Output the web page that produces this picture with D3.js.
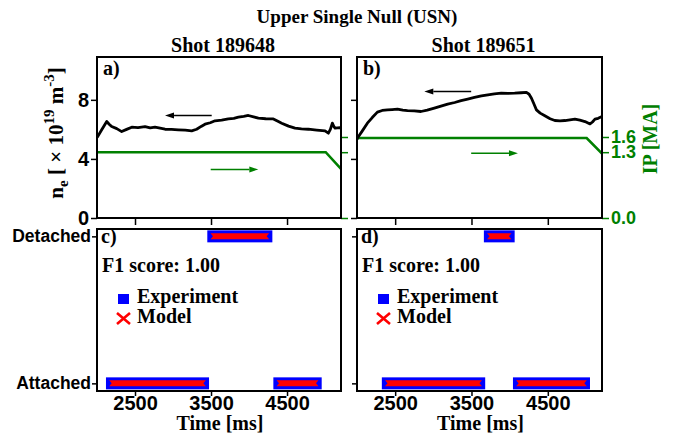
<!DOCTYPE html>
<html>
<head>
<meta charset="utf-8">
<script src="https://cdn.jsdelivr.net/npm/d3@7"></script>
<style>
  body { margin: 0; background: #fff; }
  svg { display: block; font-family: "Liberation Serif", "Times New Roman", serif; font-weight: bold; }
  .axis text { font-size: 20px; font-weight: bold; }
</style>
</head>
<body>
<svg id="chart" width="679" height="439"></svg>
<script>
// ---- data ----
const timeDomain = [2000, 5210];
const timeTicks = [2500, 3500, 4500];
const neTicks = [0, 4, 8];
const ipTicks = [0, 1.3, 1.6];
const stateLabels = ['Attached', 'Detached'];

const shots = ['189648', '189651'];

// line-averaged density [1e19 m^-3] vs time [ms]
const ne189648 = [
  [2000,5.45],[2009,5.51],[2062,5.97],[2128,6.53],[2160,6.35],[2193,6.19],[2260,6.05],[2325,5.85],
  [2390,6.0],[2457,6.15],[2540,6.12],[2632,6.19],[2700,6.1],[2763,6.15],[2830,6.08],[2895,6.01],
  [2980,6.0],[3070,5.97],[3160,5.95],[3246,5.9],[3311,6.01],[3370,6.2],[3421,6.35],[3490,6.45],
  [3553,6.58],[3640,6.62],[3728,6.71],[3800,6.75],[3860,6.83],[3930,6.88],[3991,6.94],[4060,6.85],
  [4123,6.76],[4220,6.72],[4320,6.71],[4380,6.55],[4430,6.42],[4520,6.22],[4605,6.08],[4690,6.03],
  [4780,6.01],[4890,5.95],[5000,5.9],[5044,5.74],[5070,6.0],[5096,6.42],[5115,6.2],[5132,6.08],
  [5197,6.12],[5210,6.05]
];
const ne189651 = [
  [2000,5.3],[2004,5.4],[2070,5.9],[2136,6.42],[2200,6.8],[2267,7.17],[2330,7.28],[2399,7.32],
  [2460,7.34],[2530,7.37],[2600,7.3],[2662,7.27],[2750,7.25],[2838,7.21],[2920,7.3],[3013,7.44],
  [3100,7.58],[3188,7.71],[3280,7.82],[3364,7.95],[3450,8.05],[3539,8.16],[3630,8.26],[3715,8.34],
  [3800,8.4],[3890,8.45],[3980,8.44],[4066,8.45],[4150,8.48],[4220,8.5],[4255,8.38],[4286,8.11],
  [4320,7.7],[4351,7.32],[4400,7.1],[4461,6.92],[4530,6.72],[4592,6.6],[4660,6.58],[4724,6.6],
  [4790,6.65],[4855,6.69],[4920,6.62],[4987,6.53],[5053,6.37],[5085,6.5],[5118,6.69],[5160,6.75],
  [5210,6.87]
];

// plasma current [MA]
const ip189648 = [[2000,1.30],[5009,1.30],[5210,0.97]];
const ip189651 = [[2000,1.58],[5009,1.58],[5210,1.27]];

// detachment state intervals (0 = attached, 1 = detached), first/last sample times
const exp189648 = [[0,2197,3395],[1,3530,4228],[0,4399,4877]];
const model189648 = [[0,2197,3395],[1,3530,4228],[0,4399,4877]];
const exp189651 = [[0,2404,3601],[1,3741,3987],[0,4122,4974]];
const model189651 = [[0,2404,3601],[1,3741,3987],[0,4122,4974]];

const f1Scores = [1.00, 1.00];

// axis-pointing arrows: [series, from t, to t, value]
const arrows189648 = [['ne',3509,2895,6.94],['ip',3496,4122,0.96]];
const arrows189651 = [['ne',3496,2882,8.56],['ip',3496,4109,1.28]];

// ---- layout ----
const green = '#008000';
const svg = d3.select('#chart');

const cols = [{x0: 97, x1: 341}, {x0: 357, x1: 602}];
const topRow = {y0: 57, y1: 218};
const botRow = {y0: 229, y1: 391};

const neData = [ne189648, ne189651];
const ipData = [ip189648, ip189651];
const expData = [exp189648, exp189651];
const modelData = [model189648, model189651];
const arrowData = [arrows189648, arrows189651];
const panelTags = [['a)', 'c)'], ['b)', 'd)']];

const defs = svg.append('defs');

// title
svg.append('text')
    .attr('x', 357).attr('y', 23)
    .attr('text-anchor', 'middle')
    .style('font-size', '19px')
    .text('Upper Single Null (USN)');

cols.forEach((c, i) => {
    const x = d3.scaleLinear().domain(timeDomain).range([c.x0, c.x1]);
    const yNe = d3.scaleLinear().domain([0, 10.9]).range([topRow.y1, topRow.y0]);
    const yIp = d3.scaleLinear().domain([0, 3.18]).range([topRow.y1, topRow.y0]);
    const yState = d3.scaleLinear().domain([-0.052, 1.05]).range([botRow.y1, botRow.y0]);

    // shot title
    svg.append('text')
        .attr('x', (c.x0 + c.x1) / 2 + 4).attr('y', 52)
        .attr('text-anchor', 'middle')
        .style('font-size', '20px')
        .text('Shot ' + shots[i]);

    // ---------- top panel ----------
    const clipId = 'clip-top-' + i;
    defs.append('clipPath').attr('id', clipId)
        .append('rect')
        .attr('x', c.x0).attr('y', topRow.y0)
        .attr('width', c.x1 - c.x0).attr('height', topRow.y1 - topRow.y0);

    const top = svg.append('g');

    // x ticks (no labels)
    top.append('g').attr('class', 'axis')
        .attr('transform', `translate(0,${topRow.y1})`)
        .call(d3.axisBottom(x).tickValues(timeTicks).tickSize(7).tickFormat(''))
        .call(g => g.select('.domain').remove())
        .call(g => g.selectAll('line').attr('stroke', '#000').attr('stroke-width', 1.5));

    // left ne axis
    top.append('g').attr('class', 'axis')
        .attr('transform', `translate(${c.x0},0)`)
        .call(d3.axisLeft(yNe).tickValues(neTicks).tickSize(6).tickPadding(2)
            .tickFormat(i === 0 ? d3.format('d') : ''))
        .call(g => g.select('.domain').remove())
        .call(g => g.selectAll('line').attr('stroke', '#000').attr('stroke-width', 1.5))
        .call(g => g.selectAll('text').attr('fill', '#000'));

    // right Ip axis
    top.append('g').attr('class', 'axis')
        .attr('transform', `translate(${c.x1},0)`)
        .call(d3.axisRight(yIp).tickValues(ipTicks).tickSize(7).tickPadding(2)
            .tickFormat(i === 1 ? d3.format('.1f') : ''))
        .call(g => g.select('.domain').remove())
        .call(g => g.selectAll('line').attr('stroke', green).attr('stroke-width', 1.5))
        .call(g => g.selectAll('text').attr('fill', green).style('font-size', '18px'));

    const plot = top.append('g').attr('clip-path', `url(#${clipId})`);

    plot.append('path')
        .datum(ipData[i])
        .attr('d', d3.line().x(d => x(d[0])).y(d => yIp(d[1])))
        .attr('fill', 'none')
        .attr('stroke', green)
        .attr('stroke-width', 2.6);

    plot.append('path')
        .datum(neData[i])
        .attr('d', d3.line().x(d => x(d[0])).y(d => yNe(d[1])))
        .attr('fill', 'none')
        .attr('stroke', '#000')
        .attr('stroke-width', 2.8)
        .attr('stroke-linejoin', 'round');

    // arrows pointing to the axis of each trace
    arrowData[i].forEach(a => {
        const col = a[0] === 'ne' ? '#000' : green;
        const yy = a[0] === 'ne' ? yNe(a[3]) : yIp(a[3]);
        const xs = x(a[1]), xe = x(a[2]);
        const dir = Math.sign(xe - xs);
        const head = 9;
        top.append('line')
            .attr('x1', xs).attr('y1', yy)
            .attr('x2', xe - dir * head).attr('y2', yy)
            .attr('stroke', col).attr('stroke-width', 1.5);
        top.append('path')
            .attr('d', `M${xe},${yy}L${xe - dir * head},${yy - 3}L${xe - dir * head},${yy + 3}Z`)
            .attr('fill', col);
    });

    top.append('rect')
        .attr('x', c.x0).attr('y', topRow.y0)
        .attr('width', c.x1 - c.x0).attr('height', topRow.y1 - topRow.y0)
        .attr('fill', 'none').attr('stroke', '#000').attr('stroke-width', 2);

    top.append('text')
        .attr('x', c.x0 + 6).attr('y', topRow.y0 + 18)
        .style('font-size', '20px')
        .text(panelTags[i][0]);

    // ---------- bottom panel ----------
    const bot = svg.append('g');

    bot.append('g').attr('class', 'axis')
        .attr('transform', `translate(0,${botRow.y1})`)
        .call(d3.axisBottom(x).tickValues(timeTicks).tickSize(5).tickPadding(0).tickFormat(d3.format('d')))
        .call(g => g.select('.domain').remove())
        .call(g => g.selectAll('line').attr('stroke', '#000').attr('stroke-width', 1.5))
        .call(g => g.selectAll('text').attr('fill', '#000'));

    bot.append('g').attr('class', 'axis')
        .attr('transform', `translate(${c.x0},0)`)
        .call(d3.axisLeft(yState).tickValues([0, 1]).tickSize(5).tickPadding(1)
            .tickFormat(d => i === 0 ? stateLabels[d] : ''))
        .call(g => g.select('.domain').remove())
        .call(g => g.selectAll('line').attr('stroke', '#000').attr('stroke-width', 1.5))
        .call(g => g.selectAll('text').attr('fill', '#000').style('font-size', '17.5px'));

    // experiment: blue squares merge into a bar
    bot.selectAll('rect.exp')
        .data(expData[i])
        .enter().append('rect')
        .attr('class', 'exp')
        .attr('x', d => x(d[1]) - 6)
        .attr('y', d => yState(d[0]) - 6)
        .attr('width', d => x(d[2]) - x(d[1]) + 12)
        .attr('height', 12)
        .attr('fill', '#0000ff');

    // model: red crosses merge into a notched bar
    bot.selectAll('path.model')
        .data(modelData[i])
        .enter().append('path')
        .attr('class', 'model')
        .attr('d', d => {
            const xl = x(d[1]) - 2.8, xr = x(d[2]) + 2.8, yc = yState(d[0]);
            return `M${xl},${yc - 3}L${xr},${yc - 3}L${xr - 2.5},${yc}L${xr},${yc + 3}` +
                   `L${xl},${yc + 3}L${xl + 2.5},${yc}Z`;
        })
        .attr('fill', '#ff0000');

    bot.append('rect')
        .attr('x', c.x0).attr('y', botRow.y0)
        .attr('width', c.x1 - c.x0).attr('height', botRow.y1 - botRow.y0)
        .attr('fill', 'none').attr('stroke', '#000').attr('stroke-width', 2);

    bot.append('text')
        .attr('x', c.x0 + 4).attr('y', botRow.y0 + 14)
        .style('font-size', '20px')
        .text(panelTags[i][1]);

    bot.append('text')
        .attr('x', c.x0 + 5).attr('y', 272)
        .style('font-size', '20px')
        .text('F1 score: ' + d3.format('.2f')(f1Scores[i]));

    // legend
    const lx = c.x0 + 21;
    bot.append('rect')
        .attr('x', lx).attr('y', 294)
        .attr('width', 11).attr('height', 10)
        .attr('fill', '#0000ff');
    bot.append('text')
        .attr('x', lx + 19).attr('y', 303)
        .style('font-size', '20px')
        .text('Experiment');
    bot.append('path')
        .attr('d', `M${lx - 1},313L${lx + 12},324M${lx + 12},313L${lx - 1},324`)
        .attr('stroke', '#ff0000').attr('stroke-width', 2.6).attr('fill', 'none');
    bot.append('text')
        .attr('x', lx + 19).attr('y', 323)
        .style('font-size', '20px')
        .text('Model');

    bot.append('text')
        .attr('x', (c.x0 + c.x1) / 2 + 1).attr('y', 430)
        .attr('text-anchor', 'middle')
        .style('font-size', '20px')
        .text('Time [ms]');
});

// left y label
const neLabel = svg.append('text')
    .attr('transform', 'translate(63,133) rotate(-90)')
    .attr('text-anchor', 'middle')
    .style('font-size', '21px');
neLabel.append('tspan').text('n');
neLabel.append('tspan').attr('dy', 5).style('font-size', '15px').text('e');
neLabel.append('tspan').attr('dy', -5).text(' [ \u00d7 10');
neLabel.append('tspan').attr('dy', -9).style('font-size', '15px').text('19');
neLabel.append('tspan').attr('dy', 9).text(' m');
neLabel.append('tspan').attr('dy', -9).style('font-size', '15px').text('-3');
neLabel.append('tspan').attr('dy', 9).text(']');

// right y label
svg.append('text')
    .attr('transform', 'translate(657,139) rotate(-90)')
    .attr('text-anchor', 'middle')
    .attr('fill', green)
    .style('font-size', '20px')
    .text('IP [MA]');
</script>
</body>
</html>
